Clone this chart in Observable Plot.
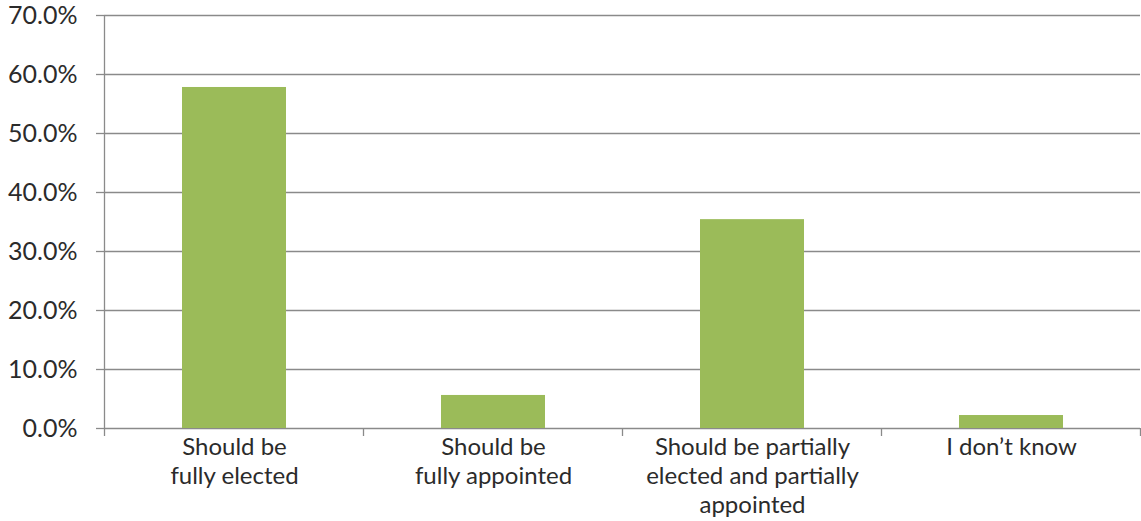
<!DOCTYPE html>
<html>
<head>
<meta charset="utf-8">
<script src="https://cdn.jsdelivr.net/npm/d3@7"></script>
<script src="https://cdn.jsdelivr.net/npm/@observablehq/plot@0.6"></script>
<style>
  html, body { margin: 0; padding: 0; background: #fff; }
  #chart svg { display: block; }
</style>
</head>
<body>
<div id="chart"></div>
<script>
const categories = [
  "Should be fully elected",
  "Should be fully appointed",
  "Should be partially elected and partially appointed",
  "I don’t know"
];
const tickLabels = [
  "Should be\nfully elected",
  "Should be\nfully appointed",
  "Should be partially\nelected and partially\nappointed",
  "I don’t know"
];
const values = [0.578, 0.056, 0.354, 0.022];
const yTicks = [0, 0.1, 0.2, 0.3, 0.4, 0.5, 0.6, 0.7];

const data = categories.map((c, i) => ({category: c, value: values[i]}));
const labelOf = new Map(categories.map((c, i) => [c, tickLabels[i]]));

const gridColor = "#8a8a8a";
const textColor = "#2b2b2b";

// band boundary ticks and y-axis line computed from the x scale
function bandTicks(index, scales, values, dimensions) {
  const x = scales.x;
  const step = x.step();
  const domain = x.domain();
  const bottom = dimensions.height - dimensions.marginBottom;
  const g = d3.create("svg:g");
  const xs = domain.map(d => x(d) - (step - x.bandwidth()) / 2);
  xs.push(xs[xs.length - 1] + step);
  for (const px of xs) {
    g.append("line")
      .attr("x1", px).attr("x2", px)
      .attr("y1", bottom).attr("y2", bottom + 8)
      .attr("stroke", gridColor).attr("stroke-width", 1.3);
  }
  g.append("line")
    .attr("x1", xs[0]).attr("x2", xs[0])
    .attr("y1", dimensions.marginTop).attr("y2", bottom)
    .attr("stroke", gridColor).attr("stroke-width", 1.3);
  return g.node();
}

const chart = Plot.plot({
  width: 1141,
  height: 521,
  marginTop: 15,
  marginBottom: 93,
  marginLeft: 104,
  marginRight: 1,
  style: {fontFamily: "Lato, 'Open Sans', sans-serif", background: "#fff"},
  x: {domain: categories, paddingInner: 0.6, paddingOuter: 0.3, align: 0.5},
  y: {domain: [0, 0.7]},
  marks: [
    Plot.ruleY(yTicks, {stroke: gridColor, strokeWidth: 1.3}),
    Plot.axisY({
      ticks: yTicks,
      tickFormat: d => (d * 100).toFixed(1) + "%",
      tickSize: 8,
      tickPadding: 19,
      stroke: gridColor,
      strokeWidth: 1.3,
      strokeOpacity: 1,
      fontSize: 25,
      fill: textColor,
      label: null
    }),
    Plot.barY(data, {x: "category", y: "value", fill: "#9bbb59"}),
    bandTicks,
    Plot.axisX({
      tickSize: 0,
      tickPadding: 6,
      tickFormat: d => labelOf.get(d),
      lineHeight: 1.21,
      fontSize: 24,
      fill: textColor,
      label: null
    })
  ]
});
document.getElementById("chart").appendChild(chart);
</script>
</body>
</html>
